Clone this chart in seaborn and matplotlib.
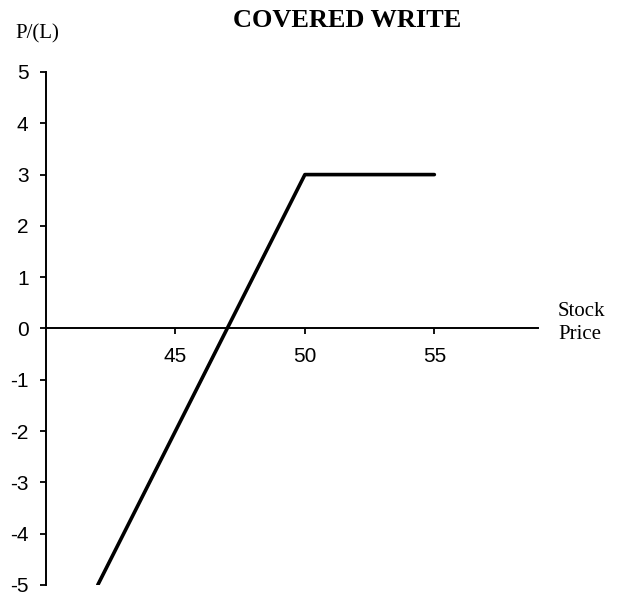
import matplotlib
matplotlib.use("Agg")
import matplotlib.pyplot as plt
import seaborn as sns
import pandas as pd

# ------------------------------------------------------------
# Payoff data for the covered write
# ------------------------------------------------------------
stock_price = [42, 50, 55]
profit_loss = [-5, 3, 3]
x_ticks = [45, 50, 55]
y_ticks = [-5, -4, -3, -2, -1, 0, 1, 2, 3, 4, 5]

df = pd.DataFrame({"price": stock_price, "pl": profit_loss})

sns.set_style("white")
plt.rcParams["font.family"] = ["Liberation Sans", "DejaVu Sans"]
plt.rcParams["axes.unicode_minus"] = False
plt.rcParams["text.color"] = "black"

fig = plt.figure(figsize=(6.18, 5.96), dpi=100)
ax = fig.add_axes([0.0744, 0.0185, 0.796, 0.8607])

sns.lineplot(data=df, x="price", y="pl", color="black", linewidth=2.6, ax=ax)

ax.set_xlim(40, 59)
ax.set_ylim(-5, 5)

# axis layout: y axis on left, x axis through zero
ax.spines["top"].set_visible(False)
ax.spines["right"].set_visible(False)
ax.spines["bottom"].set_position(("data", 0))
for side in ["left", "bottom"]:
    ax.spines[side].set_linewidth(1.4)
    ax.spines[side].set_color("black")

ax.set_xticks(x_ticks)
ax.set_yticks(y_ticks)
ax.tick_params(axis="both", direction="out", length=4.5, width=1.3,
               labelsize=15, colors="black", bottom=True, left=True)
ax.tick_params(axis="x", pad=9)
ax.tick_params(axis="y", pad=8)
ax.set_xlabel("")
ax.set_ylabel("")

serif = ["Liberation Serif", "DejaVu Serif"]
fig.text(0.562, 0.965, "COVERED WRITE", ha="center", va="center",
         fontsize=19, fontweight="bold", family=serif, color="black")
fig.text(0.025, 0.943, "P/(L)", ha="left", va="center",
         fontsize=15, family=serif, color="black")
fig.text(0.903, 0.458, "Stock\nPrice", ha="left", va="center",
         fontsize=15, family=serif, linespacing=1.25, color="black")

fig.savefig("out.png", dpi=100)
